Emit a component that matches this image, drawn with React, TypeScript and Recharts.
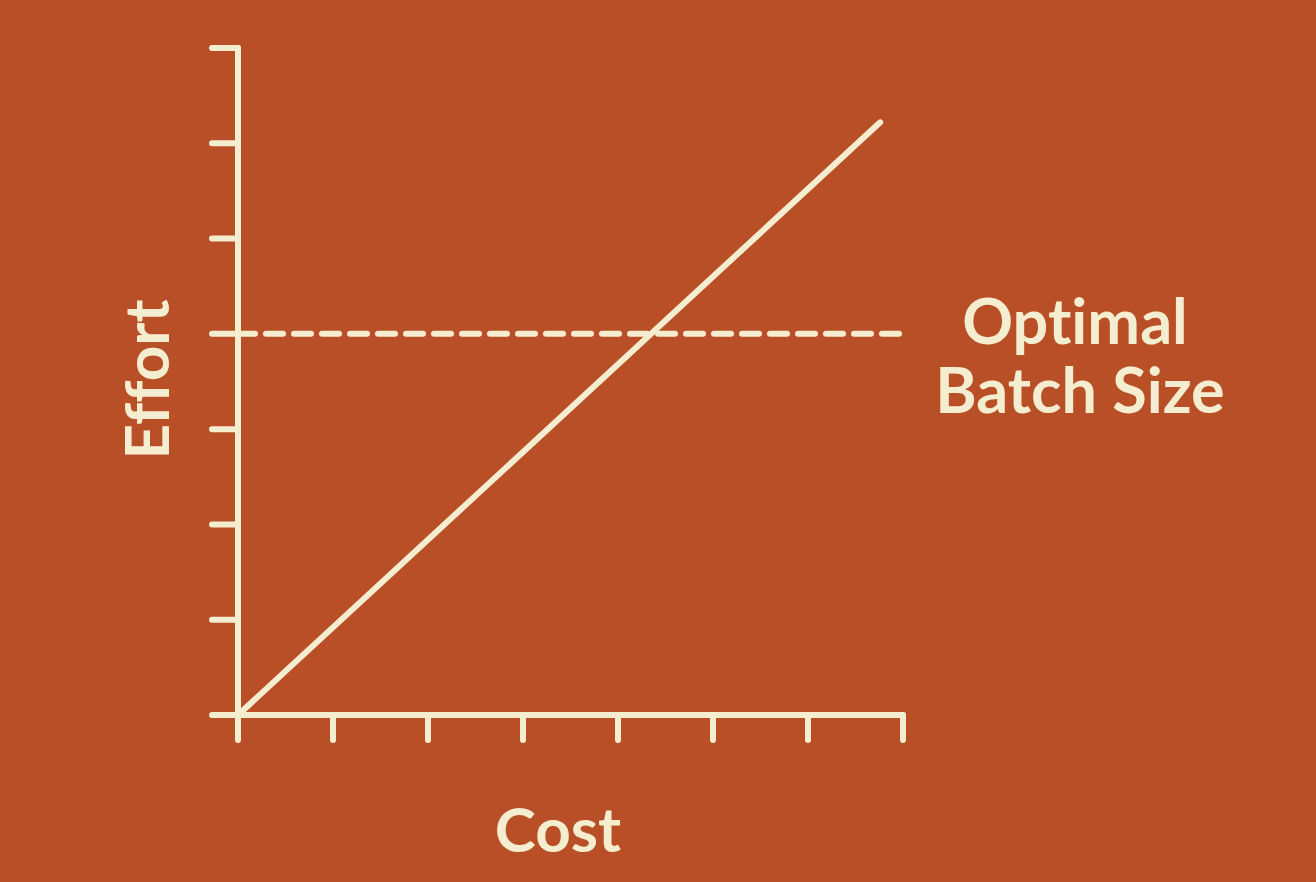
import { LineChart, Line, XAxis, YAxis, ReferenceLine, Label } from "recharts";

const BG = "#B94F27";
const INK = "#F4EDCF";
const FONT = "Lato, 'Open Sans', sans-serif";

const axisTicks = [0, 1, 2, 3, 4, 5, 6, 7];
const costValues = [0, 6.76];
const effortValues = [0, 6.22];
const optimalBatch = 4;
const axisTitles = { x: "Cost", y: "Effort" };
const batchLabel = ["Optimal", "Batch Size"];

const lineData = costValues.map((cost, i) => ({ cost, effort: effortValues[i] }));

const strokeProps = { stroke: INK, strokeWidth: 6, strokeLinecap: "round" as const };
const textStyle = { fontVariantLigatures: "none" as const };

// no tick labels, but keep the tick marks
const NoLabel = () => <g />;

export default function App() {
  return (
    <div style={{ position: "absolute", left: 0, top: 0, width: 1316, height: 882, background: BG }}>
      <LineChart width={1316} height={882} data={lineData} margin={{ top: 48, right: 413, bottom: 0, left: 0 }}>
        <XAxis
          type="number"
          dataKey="cost"
          domain={[0, 7]}
          ticks={axisTicks}
          interval={0}
          height={167}
          axisLine={strokeProps}
          tickLine={strokeProps}
          tickSize={25}
          tick={<NoLabel />}
        >
          <Label
            content={({ viewBox }: any) => (
              <text
                x={viewBox.x + 320}
                y={viewBox.y + 137}
                textAnchor="middle"
                fill={INK}
                fontFamily={FONT}
                fontWeight={700}
                fontSize={62}
                style={textStyle}
              >
                {axisTitles.x}
              </text>
            )}
          />
        </XAxis>
        <YAxis
          type="number"
          domain={[0, 7]}
          ticks={axisTicks}
          interval={0}
          width={238}
          axisLine={strokeProps}
          tickLine={strokeProps}
          tickSize={26}
          tick={<NoLabel />}
        >
          <Label
            content={({ viewBox }: any) => {
              const cx = 169;
              const cy = viewBox.y + viewBox.height / 2 - 2;
              return (
                <text
                  x={cx}
                  y={cy}
                  transform={`rotate(-90 ${cx} ${cy})`}
                  textAnchor="middle"
                  fill={INK}
                  fontFamily={FONT}
                  fontWeight={700}
                  fontSize={62}
                  style={textStyle}
                >
                  {axisTitles.y}
                </text>
              );
            }}
          />
        </YAxis>
        <ReferenceLine
          y={optimalBatch}
          stroke={INK}
          strokeWidth={6}
          strokeLinecap="round"
          strokeDasharray="17 11"
          label={({ viewBox }: any) => (
            <text
              x={viewBox.x + viewBox.width + 172}
              y={viewBox.y + 10}
              textAnchor="middle"
              fill={INK}
              fontFamily={FONT}
              fontWeight={700}
              fontSize={63}
              style={textStyle}
            >
              <tspan x={viewBox.x + viewBox.width + 172}>{batchLabel[0]}</tspan>
              <tspan x={viewBox.x + viewBox.width + 177} dy={69}>{batchLabel[1]}</tspan>
            </text>
          )}
        />
        <Line
          type="linear"
          dataKey="effort"
          stroke={INK}
          strokeWidth={6}
          strokeLinecap="round"
          dot={false}
          activeDot={false}
          isAnimationActive={false}
        />
      </LineChart>
    </div>
  );
}
